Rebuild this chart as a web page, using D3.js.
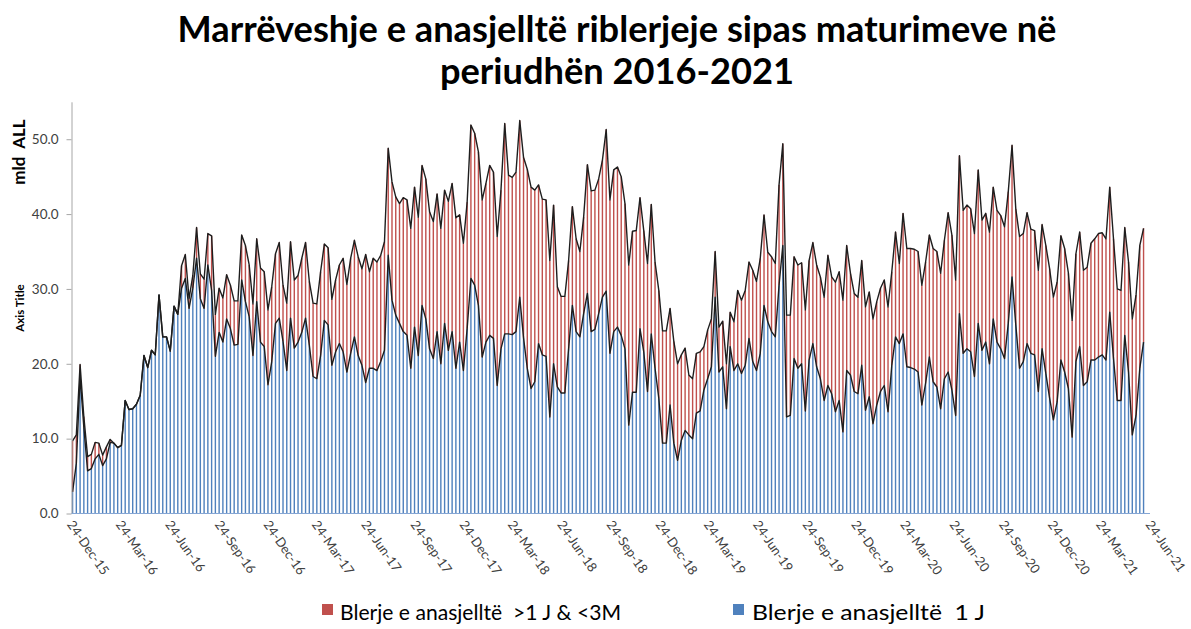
<!DOCTYPE html>
<html>
<head>
<meta charset="utf-8">
<script src="https://cdn.jsdelivr.net/npm/d3@7"></script>
<style>
  body { margin: 0; background: #fff; }
  text { font-family: Lato, "Open Sans", sans-serif; white-space: pre; }
</style>
</head>
<body>
<svg id="chart" width="1191" height="629"></svg>
<script>
// weekly observations, first one on 26-Dec-15
var firstWeek = "26-Dec-15"

var tickLabels = ["24-Dec-15", "24-Mar-16", "24-Jun-16", "24-Sep-16", "24-Dec-16", "24-Mar-17",
  "24-Jun-17", "24-Sep-17", "24-Dec-17", "24-Mar-18", "24-Jun-18", "24-Sep-18", "24-Dec-18",
  "24-Mar-19", "24-Jun-19", "24-Sep-19", "24-Dec-19", "24-Mar-20", "24-Jun-20", "24-Sep-20",
  "24-Dec-20", "24-Mar-21", "24-Jun-21"]

var yTicks = [0, 10, 20, 30, 40, 50]

var seriesNames = ["Blerje e anasjelltë  >1 J & <3M", "Blerje e anasjelltë  1 J"]

// Blerje e anasjelltë 1 J (mld ALL)
var oneYear = [
  2.9, 6.7, 18.3, 11.5, 5.7, 6.0, 7.3, 7.9, 6.4, 7.3, 9.5, 9.4, 8.8, 9.1, 15.1, 13.9, 14.0, 14.6, 15.8, 21.1,
  19.5, 21.8, 21.2, 29.2, 23.6, 23.6, 21.7, 27.7, 26.6, 30.1, 31.4, 27.4, 30.1, 34.1, 28.7, 27.4, 33.2, 29.8, 21.0, 24.2,
  22.9, 26.0, 24.7, 22.5, 22.6, 31.2, 28.3, 26.3, 21.1, 28.3, 22.9, 22.3, 17.2, 20.3, 25.4, 26.1, 23.0, 19.1, 26.1, 22.1,
  22.9, 24.2, 26.1, 22.5, 18.3, 18.0, 21.1, 25.8, 25.2, 19.8, 21.6, 22.7, 21.6, 18.9, 21.4, 23.6, 21.1, 19.8, 17.5, 19.4,
  19.4, 19.1, 20.3, 21.8, 34.5, 28.5, 26.5, 25.4, 24.3, 23.8, 19.4, 24.9, 21.1, 27.8, 26.0, 22.0, 20.7, 24.3, 20.0, 25.4,
  21.8, 24.3, 19.4, 22.9, 19.1, 24.7, 31.4, 30.5, 27.8, 20.9, 22.9, 23.8, 23.4, 17.1, 22.0, 24.0, 24.0, 23.9, 24.3, 28.9,
  23.5, 19.4, 16.7, 17.6, 22.7, 21.2, 21.0, 12.9, 20.0, 16.9, 16.1, 16.1, 22.0, 27.8, 24.3, 23.6, 26.7, 29.4, 24.3, 24.6,
  26.7, 28.9, 29.7, 21.4, 24.3, 24.9, 23.8, 22.0, 11.8, 16.2, 16.2, 24.7, 21.6, 16.3, 24.0, 19.4, 15.4, 9.4, 9.4, 14.5,
  9.4, 7.1, 9.8, 11.1, 10.5, 10.0, 13.4, 13.7, 16.5, 18.0, 19.6, 28.9, 18.9, 19.6, 14.0, 22.3, 19.1, 20.0, 18.7, 19.8,
  23.4, 20.3, 19.1, 21.4, 27.8, 25.6, 24.3, 23.6, 30.5, 35.8, 12.9, 13.1, 20.7, 19.4, 20.0, 13.7, 20.5, 22.7, 19.6, 18.0,
  15.1, 17.1, 16.0, 13.6, 15.1, 10.9, 19.1, 18.5, 16.3, 16.0, 19.8, 13.8, 15.6, 12.0, 14.5, 16.3, 17.1, 13.6, 19.8, 23.6,
  22.7, 24.0, 19.6, 19.5, 19.3, 18.9, 14.5, 17.4, 20.9, 17.6, 16.9, 14.0, 18.0, 18.9, 16.5, 13.1, 26.7, 21.4, 22.0, 21.6,
  18.3, 25.4, 21.8, 22.9, 20.0, 26.0, 22.9, 22.0, 20.7, 25.4, 31.6, 25.2, 19.4, 20.3, 22.7, 21.4, 21.2, 16.3, 22.0, 18.7,
  15.4, 12.5, 14.9, 20.5, 18.9, 16.7, 10.2, 20.3, 22.3, 17.1, 17.6, 20.5, 20.5, 20.9, 21.2, 20.5, 26.9, 20.7, 15.1, 15.1,
  23.8, 18.9, 10.5, 13.1, 19.4, 22.9
]

// top of the stack (1 J + >1 J & <3M)
var stackTop = [
  9.7, 10.5, 19.9, 12.9, 7.6, 7.9, 9.5, 9.4, 7.8, 8.9, 9.9, 9.4, 8.8, 9.1, 15.1, 13.9, 14.0, 14.6, 15.8, 21.1,
  19.5, 21.8, 21.2, 29.2, 23.6, 23.6, 21.7, 27.7, 26.6, 33.1, 34.6, 28.7, 31.8, 38.2, 32.0, 31.3, 37.4, 37.1, 26.6, 30.1,
  28.8, 31.9, 30.5, 28.4, 28.4, 37.2, 35.8, 33.2, 28.0, 36.7, 32.8, 32.3, 27.2, 30.3, 34.7, 36.2, 30.5, 28.1, 36.3, 31.2,
  31.8, 34.1, 36.2, 31.0, 28.1, 28.0, 32.3, 36.0, 35.5, 28.6, 31.2, 33.2, 34.1, 30.6, 34.1, 36.5, 34.3, 32.7, 34.6, 32.3,
  34.1, 33.6, 34.5, 36.3, 48.8, 44.3, 42.3, 41.4, 42.2, 41.9, 38.1, 43.6, 39.6, 46.5, 44.7, 40.3, 39.0, 42.7, 38.1, 43.2,
  41.7, 44.1, 39.5, 39.9, 36.1, 41.6, 51.9, 50.8, 48.3, 41.9, 44.1, 46.5, 45.6, 37.0, 43.2, 52.1, 45.2, 44.9, 45.6, 52.5,
  47.6, 46.0, 43.6, 43.2, 43.9, 42.0, 41.9, 33.8, 41.2, 30.3, 29.0, 29.0, 33.8, 41.0, 36.7, 35.0, 39.6, 46.6, 43.1, 43.2,
  44.7, 47.2, 51.3, 41.9, 45.9, 46.3, 45.0, 41.4, 33.2, 37.7, 37.8, 42.2, 37.8, 33.4, 41.3, 33.6, 29.8, 24.4, 24.4, 27.4,
  23.0, 20.0, 21.2, 22.1, 18.5, 18.0, 21.4, 21.6, 22.3, 24.5, 26.0, 35.0, 24.9, 25.7, 20.0, 26.9, 25.6, 29.8, 28.5, 29.8,
  33.6, 32.5, 31.0, 34.1, 39.9, 34.9, 34.3, 33.4, 43.9, 49.4, 26.5, 26.5, 34.3, 33.2, 33.5, 27.2, 33.8, 36.2, 33.2, 31.6,
  28.9, 34.5, 31.6, 30.9, 32.3, 28.5, 35.8, 32.1, 29.4, 28.9, 33.8, 27.6, 29.6, 26.0, 28.3, 30.1, 31.2, 27.6, 32.3, 37.6,
  33.4, 40.1, 35.4, 35.4, 35.3, 35.0, 30.5, 33.6, 37.2, 35.4, 35.0, 32.1, 36.5, 40.2, 37.2, 31.2, 47.8, 40.5, 41.2, 40.7,
  37.4, 45.9, 39.2, 40.1, 37.6, 43.6, 40.5, 39.8, 38.3, 43.0, 49.2, 40.7, 37.0, 37.4, 40.2, 38.0, 37.8, 32.5, 38.6, 35.8,
  32.7, 28.9, 30.9, 37.1, 35.4, 32.1, 25.8, 34.7, 37.6, 32.5, 32.9, 36.1, 36.7, 37.4, 37.5, 36.7, 43.6, 36.7, 30.0, 29.8,
  38.2, 33.6, 26.0, 29.2, 35.8, 38.1
]

var parse = d3.timeParse("%d-%b-%y")
var start = parse(firstWeek)

var data = oneYear.map(function(v, i) {
  return {date: d3.timeDay.offset(start, 7 * i), one: v, rest: stackTop[i] - v}
})

var svg = d3.select("#chart")

var x = d3.scaleTime()
  .domain([parse(tickLabels[0]), parse(tickLabels[tickLabels.length - 1])])
  .range([71.5, 1150])

var y = d3.scaleLinear()
  .domain([0, 55])
  .range([513.5, 101.8])

var stack = d3.stack().keys(["one", "rest"])
var layers = stack(data)
var colors = {one: "#4F81BD", rest: "#C0504D"}
var barW = 1.4

svg.append("g")
  .selectAll("g")
  .data(layers)
  .enter().append("g")
    .attr("fill", function(d) { return colors[d.key] })
  .selectAll("rect")
  .data(function(d) { return d })
  .enter().append("rect")
    .attr("x", function(d) { return x(d.data.date) - barW / 2 })
    .attr("y", function(d) { return y(d[1]) })
    .attr("width", barW)
    .attr("height", function(d) { return Math.max(0, y(d[0]) - y(d[1])) })

// outline lines on top of each layer
var line = d3.line()
  .x(function(d) { return x(d.data.date) })
  .y(function(d) { return y(d[1]) })

svg.append("g")
  .selectAll("path")
  .data(layers)
  .enter().append("path")
    .attr("d", line)
    .attr("fill", "none")
    .attr("stroke", "#1e1e1e")
    .attr("stroke-width", 1.4)
    .attr("stroke-linejoin", "round")

// y axis
var yAxis = svg.append("g")
  .attr("transform", "translate(71.5,0)")
  .call(d3.axisLeft(y).tickValues(yTicks).tickFormat(d3.format(".1f")).tickSize(5).tickSizeOuter(0).tickPadding(8))
yAxis.select(".domain").attr("stroke", "#a6a6a6")
yAxis.selectAll(".tick line").attr("stroke", "#a6a6a6")
yAxis.selectAll(".tick text")
  .attr("fill", "#404040")
  .style("font-size", "13.5px")

// x axis line
svg.append("line")
  .attr("x1", x.range()[0]).attr("x2", x.range()[1])
  .attr("y1", 513.5).attr("y2", 513.5)
  .attr("stroke", "#86a6d4")
  .attr("stroke-width", 1.2)

svg.append("g")
  .selectAll("text")
  .data(tickLabels)
  .enter().append("text")
    .attr("transform", function(d) { return "translate(" + (x(parse(d)) + 3) + ",519) rotate(55)" })
    .attr("dy", "0.75em")
    .attr("fill", "#404040")
    .style("font-size", "13px")
    .text(function(d) { return d })

// axis titles
svg.append("text")
  .attr("transform", "translate(25,152) rotate(-90)")
  .attr("text-anchor", "middle")
  .attr("font-weight", "bold")
  .style("font-size", "17px")
  .text("mld  ALL")

svg.append("text")
  .attr("transform", "translate(24,308) rotate(-90)")
  .attr("text-anchor", "middle")
  .attr("font-weight", "bold")
  .style("font-size", "11.5px")
  .text("Axis Title")

function fitWidth(sel, target) {
  var fs = parseFloat(sel.attr("font-size"))
  var w = sel.node().getComputedTextLength()
  var nfs = fs * target / w
  sel.attr("font-size", nfs)
  return nfs
}

// title
var t1 = svg.append("text")
  .attr("x", 617).attr("y", 42)
  .attr("text-anchor", "middle")
  .attr("font-weight", "bold")
  .attr("font-size", 32)
  .text("Marrëveshje e anasjelltë riblerjeje sipas maturimeve në")
var tfs = fitWidth(t1, 879)
svg.append("text")
  .attr("x", 617).attr("y", 84)
  .attr("text-anchor", "middle")
  .attr("font-weight", "bold")
  .attr("font-size", tfs)
  .text("periudhën 2016-2021")

// legend
var legendItems = [
  {name: seriesNames[0], color: colors.rest, sx: 322, tx: 340, w: 281},
  {name: seriesNames[1], color: colors.one, sx: 733, tx: 752, w: 233}
]
var lg = svg.append("g").attr("class", "legend")
lg.selectAll("rect")
  .data(legendItems)
  .enter().append("rect")
    .attr("x", function(d) { return d.sx })
    .attr("y", 604)
    .attr("width", 11).attr("height", 11)
    .attr("fill", function(d) { return d.color })
lg.selectAll("text")
  .data(legendItems)
  .enter().append("text")
    .attr("x", function(d) { return d.tx })
    .attr("y", 620)
    .attr("fill", "#000")
    .attr("font-size", 21)
    .attr("textLength", function(d) { return d.w })
    .attr("lengthAdjust", "spacingAndGlyphs")
    .text(function(d) { return d.name })
</script>
</body>
</html>
